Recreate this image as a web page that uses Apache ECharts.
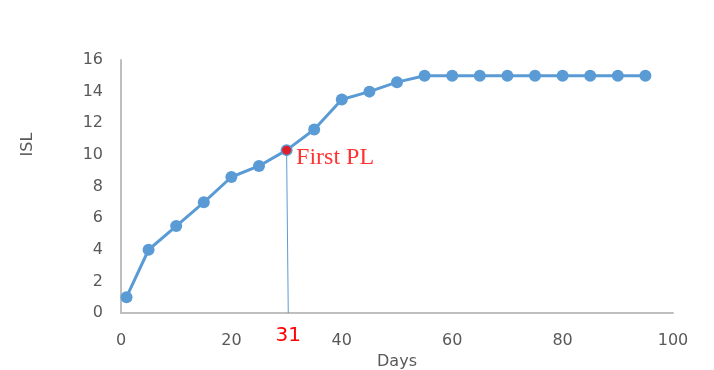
<!DOCTYPE html>
<html>
<head>
<meta charset="utf-8">
<script src="https://cdn.jsdelivr.net/npm/echarts@6/dist/echarts.min.js"></script>
<style>
html,body{margin:0;padding:0;background:#fff;}
#chart{width:714px;height:370px;}
</style>
</head>
<body>
<div id="chart"></div>
<script>
// Data
var days = [1, 5, 10, 15, 20, 25, 30, 35, 40, 45, 50, 55, 60, 65, 70, 75, 80, 85, 90, 95];
var islValues = [1, 4, 5.5, 7, 8.6, 9.3, 10.3, 11.6, 13.5, 14, 14.6, 15, 15, 15, 15, 15, 15, 15, 15, 15];
var firstPLDay = 30;
var firstPLValue = 10.3;
var firstPLBaseDay = 30.3;
var firstPLLabel = 'First PL';
var firstPLDayLabel = '31';
var xTicks = [0, 20, 40, 60, 80, 100];
var yTicks = [0, 2, 4, 6, 8, 10, 12, 14, 16];
var xName = 'Days';
var yName = 'ISL';

var chart = echarts.init(document.getElementById('chart'), null, {renderer: 'canvas'});
var font = 'DejaVu Sans';
var grey = '#595959';

var mainData = days.map(function (d, i) { return [d, islValues[i]]; });

chart.setOption({
  animation: false,
  backgroundColor: '#ffffff',
  grid: {left: 121, right: 41, top: 60, bottom: 57, containLabel: false, outerBoundsMode: 'none'},
  xAxis: {
    type: 'value',
    min: xTicks[0], max: xTicks[xTicks.length - 1], interval: xTicks[1] - xTicks[0],
    name: xName, nameLocation: 'middle', nameGap: 28,
    nameTextStyle: {color: grey, fontFamily: font, fontSize: 16},
    axisLine: {show: true, lineStyle: {color: '#bfbfbf', width: 2}},
    axisTick: {show: false},
    splitLine: {show: false},
    axisLabel: {color: grey, fontFamily: font, fontSize: 16, margin: 20}
  },
  yAxis: {
    type: 'value',
    min: yTicks[0], max: yTicks[yTicks.length - 1], interval: yTicks[1] - yTicks[0],
    axisLine: {show: true, lineStyle: {color: '#bfbfbf', width: 2}},
    axisTick: {show: false},
    splitLine: {show: false},
    axisLabel: {color: grey, fontFamily: font, fontSize: 16, margin: 18}
  },
  graphic: [{
    type: 'text',
    x: 28, y: 144.5,
    rotation: Math.PI / 2,
    style: {text: yName, fill: grey, font: '16px "DejaVu Sans"', align: 'center', verticalAlign: 'middle'}
  }],
  series: [
    {
      type: 'line',
      data: [[firstPLDay, firstPLValue], [firstPLBaseDay, 0]],
      symbol: 'none',
      lineStyle: {color: '#5b9bd5', width: 1},
      z: 1,
      label: {show: false},
      markPoint: {
        symbol: 'circle', symbolSize: 0,
        label: {show: true, formatter: firstPLDayLabel, color: '#ff0000', fontFamily: font, fontSize: 20, position: 'bottom', distance: 13},
        data: [{coord: [firstPLBaseDay, 0]}]
      }
    },
    {
      type: 'line',
      data: mainData,
      symbol: 'circle',
      symbolSize: 12,
      lineStyle: {color: '#5b9bd5', width: 3},
      itemStyle: {color: '#5b9bd5'},
      z: 2
    },
    {
      type: 'scatter',
      data: [[firstPLDay, firstPLValue]],
      symbol: 'circle',
      symbolSize: 9,
      itemStyle: {color: '#ff0000'},
      z: 3,
      label: {
        show: true, formatter: firstPLLabel, position: 'right', distance: 5, offset: [0, 8],
        color: '#ff0000', fontFamily: 'Liberation Serif', fontSize: 24
      }
    }
  ]
});
</script>
</body>
</html>
